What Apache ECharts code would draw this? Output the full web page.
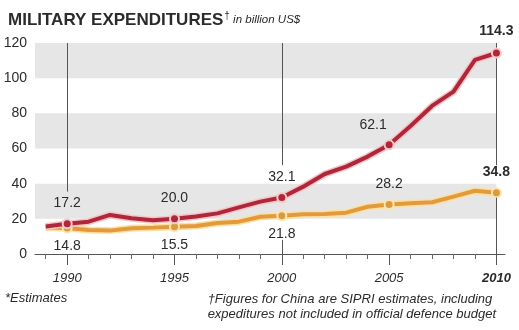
<!DOCTYPE html>
<html>
<head>
<meta charset="utf-8">
<style>
  html, body { margin: 0; padding: 0; background: #fff; }
  #chart { width: 519px; height: 330px; }
</style>
<script src="https://cdn.jsdelivr.net/npm/echarts@6/dist/echarts.min.js"></script>
</head>
<body>
<div id="chart"></div>
<script>
// Yearly military expenditures, billion US$
const years = [1989, 1990, 1991, 1992, 1993, 1994, 1995, 1996, 1997, 1998, 1999,
               2000, 2001, 2002, 2003, 2004, 2005, 2006, 2007, 2008, 2009, 2010];
const redSeries = [15.6, 17.2, 18.4, 22.2, 20.3, 19.2, 20.0, 21.3, 23.1, 26.5, 29.8,
                   32.1, 38.3, 45.5, 49.7, 55.4, 62.1, 72.8, 84.2, 92.3, 110.4, 114.3];
const orangeSeries = [15.0, 14.8, 13.6, 13.3, 14.6, 15.0, 15.5, 15.9, 17.6, 18.4, 21.2,
                      21.8, 22.6, 22.8, 23.5, 26.9, 28.2, 28.8, 29.4, 32.6, 36.0, 34.8];
const labelledYears = [1990, 1995, 2000, 2005, 2010];
const yTicks = [0, 20, 40, 60, 80, 100, 120];
const xLabelYears = [1990, 1995, 2000, 2005, 2010];
const shadedBands = [[20, 40], [60, 80], [100, 120]];

const TXT = '#2b2b2b';
const FONT = 'Liberation Sans, Arial, sans-serif';

function buildData(values, colors, placement) {
  return years.map((yr, i) => {
    const item = { value: [yr, values[i]], symbol: 'none' };
    if (labelledYears.includes(yr)) {
      const last = yr === 2010;
      const p = placement(yr);
      item.symbol = 'circle';
      item.symbolSize = 9;
      item.itemStyle = { color: colors.fill, borderColor: colors.ring, borderWidth: 2 };
      item.label = {
        show: true,
        position: p.position,
        offset: p.offset || [0, 0],
        distance: p.distance,
        formatter: values[i].toFixed(1),
        fontFamily: FONT,
        fontSize: 14,
        fontWeight: last ? 'bold' : 'normal',
        color: TXT
      };
    }
    return item;
  });
}

const redData = buildData(redSeries, { fill: '#b0263a', ring: '#f6c9c9' }, yr => {
  if (yr === 2005) return { position: 'top', offset: [-16, 0], distance: 7 };
  if (yr === 2010) return { position: 'top', offset: [0, 0], distance: 9 };
  return { position: 'top', distance: 8 };
});
const orangeData = buildData(orangeSeries, { fill: '#d89a45', ring: '#fde4a8' }, yr => {
  if (yr === 2005 || yr === 2010) return { position: 'top', distance: 8 };
  return { position: 'bottom', distance: 6 };
});

function vSeg(x, y0, y1) {
  return [{ coord: [x, y0] }, { coord: [x, y1] }];
}

const chart = echarts.init(document.getElementById('chart'), null, { renderer: 'canvas' });

chart.setOption({
  animation: false,
  backgroundColor: '#fff',
  textStyle: { fontFamily: FONT },
  title: {
    left: 3,
    top: 6,
    text: '{a|MILITARY EXPENDITURES}{s|†}{b| in billion US$}',
    textStyle: {
      rich: {
        a: { fontFamily: FONT, fontSize: 17, fontWeight: 'bold', color: TXT },
        s: { fontFamily: FONT, fontSize: 10, fontWeight: 'normal', color: TXT, padding: [0, 0, 8, 1] },
        b: { fontFamily: FONT, fontSize: 11.5, fontStyle: 'italic', fontWeight: 'normal', color: TXT }
      }
    }
  },
  grid: { left: 35, right: 14, top: 43, bottom: 76 },
  xAxis: [
    {
      type: 'value',
      min: 1988.5,
      max: 2010.4,
      axisLine: { show: true, lineStyle: { color: '#555', width: 1 } },
      axisTick: { show: true, length: 5, customValues: years, lineStyle: { color: '#666' } },
      axisLabel: { show: false },
      splitLine: { show: false }
    },
    {
      type: 'value',
      min: 1988.5,
      max: 2010.4,
      position: 'bottom',
      axisLine: { show: false },
      axisTick: { show: true, length: 11, customValues: xLabelYears, lineStyle: { color: '#555' } },
      axisLabel: {
        show: true,
        customValues: xLabelYears,
        margin: 18,
        fontFamily: FONT,
        fontSize: 13,
        fontStyle: 'italic',
        color: TXT,
        formatter: v => (v === 2010 ? '{b|' + v + '}' : String(v)),
        rich: { b: { fontFamily: FONT, fontSize: 13, fontStyle: 'italic', fontWeight: 'bold', color: TXT } }
      },
      splitLine: { show: false }
    }
  ],
  yAxis: {
    type: 'value',
    min: 0,
    max: 120,
    interval: 20,
    axisLine: { show: false },
    axisTick: { show: false },
    splitLine: { show: false },
    axisLabel: {
      margin: 8,
      fontFamily: FONT,
      fontSize: 14,
      color: TXT,
      customValues: yTicks
    }
  },
  series: [
    {
      // shaded bands and reference verticals
      type: 'line',
      data: [],
      z: 1,
      silent: true,
      markArea: {
        silent: true,
        itemStyle: { color: '#e6e6e6' },
        data: shadedBands.map(b => [{ coord: [1988.5, b[0]] }, { coord: [2010, b[1]] }])
      },
      markLine: {
        silent: true,
        symbol: 'none',
        label: { show: false },
        lineStyle: { color: '#555', width: 1, type: 'solid' },
        data: [
          vSeg(1990, 120, 35.5),
          vSeg(2000, 120, 50.5),
          vSeg(2000, 8, 0),
          vSeg(2010, 120, 50.5),
          vSeg(2010, 32, 0)
        ]
      }
    },
    {
      type: 'line',
      data: orangeSeries.map((v, i) => [years[i], v]),
      showSymbol: false,
      silent: true,
      z: 2,
      lineStyle: { color: '#fbe0a2', width: 7 }
    },
    {
      type: 'line',
      data: orangeData,
      z: 3,
      lineStyle: { color: '#e39a3c', width: 4 }
    },
    {
      type: 'line',
      data: redSeries.map((v, i) => [years[i], v]),
      showSymbol: false,
      silent: true,
      z: 4,
      lineStyle: { color: '#f6c6c6', width: 7 }
    },
    {
      type: 'line',
      data: redData,
      z: 5,
      lineStyle: { color: '#b0263a', width: 4 }
    }
  ],
  graphic: [
    {
      type: 'text',
      left: 5,
      top: 292,
      style: { text: '*Estimates', font: 'italic 13px ' + FONT, fill: TXT }
    },
    {
      type: 'text',
      right: 23,
      top: 292,
      style: {
        text: '†Figures for China are SIPRI estimates, including\nexpeditures not included in official defence budget',
        font: 'italic 13px ' + FONT,
        fill: TXT,
        align: 'right',
        lineHeight: 15
      }
    }
  ]
});
</script>
</body>
</html>
